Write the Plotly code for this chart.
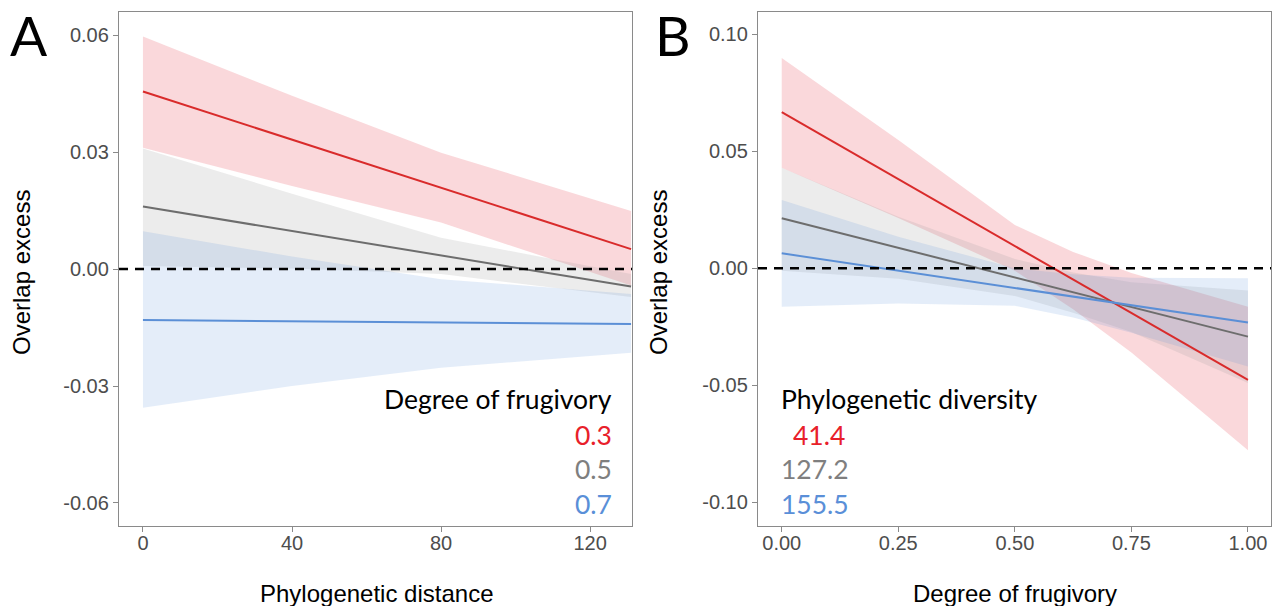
import plotly.graph_objects as go

W, H = 1273, 606

# ---------------- Panel A data (x = phylogenetic distance) ----------------
a_x = [0, 40, 80, 131]
a_red_fit = [0.0455, 0.0332, 0.0208, 0.0051]
a_red_lo = [0.0311, 0.0213, 0.0119, -0.0042]
a_red_hi = [0.0596, 0.0444, 0.0298, 0.0149]
a_gray_fit = [0.0160, 0.0097, 0.0035, -0.0045]
a_gray_lo = [0.0008, 0.0001, -0.0013, -0.0072]
a_gray_hi = [0.0309, 0.0193, 0.0080, -0.0013]
a_blue_fit = [-0.0131, -0.0134, -0.0137, -0.0141]
a_blue_lo = [-0.0356, -0.0300, -0.0253, -0.0215]
a_blue_hi = [0.0097, 0.0032, -0.0026, -0.0064]
a_legend_title = "Degree of frugivory"
a_legend_labels = ["0.3", "0.5", "0.7"]

# ---------------- Panel B data (x = degree of frugivory) ----------------
b_x = [0, 0.25, 0.5, 0.625, 0.75, 1.0]
b_red_fit = [0.0667, 0.0381, 0.0095, -0.0048, -0.0191, -0.0477]
b_red_lo = [0.0430, 0.0215, -0.0010, -0.0175, -0.0360, -0.0777]
b_red_hi = [0.0898, 0.0548, 0.0185, 0.0070, -0.0020, -0.0164]
b_gray_fit = [0.0214, 0.0088, -0.0039, -0.0103, -0.0166, -0.0292]
b_gray_lo = [-0.0010, -0.0045, -0.0118, -0.0190, -0.0272, -0.0490]
b_gray_hi = [0.0430, 0.0220, 0.0040, -0.0018, -0.0060, -0.0095]
b_blue_fit = [0.0064, -0.0010, -0.0084, -0.0121, -0.0158, -0.0232]
b_blue_lo = [-0.0164, -0.0150, -0.0160, -0.0210, -0.0275, -0.0420]
b_blue_hi = [0.0292, 0.0135, 0.0000, -0.0025, -0.0040, -0.0043]
b_legend_title = "Phylogenetic diversity"
b_legend_labels = ["41.4", "127.2", "155.5"]

# ticks
a_xticks = [0, 40, 80, 120]
a_xticklabels = ["0", "40", "80", "120"]
a_yticks = [-0.06, -0.03, 0.0, 0.03, 0.06]
a_yticklabels = ["-0.06", "-0.03", "0.00", "0.03", "0.06"]
b_xticks = [0, 0.25, 0.5, 0.75, 1.0]
b_xticklabels = ["0.00", "0.25", "0.50", "0.75", "1.00"]
b_yticks = [-0.10, -0.05, 0.0, 0.05, 0.10]
b_yticklabels = ["-0.10", "-0.05", "0.00", "0.05", "0.10"]

# styles
line_cols = ["#d92b2b", "#6d6d6d", "#5b8fd6"]
fill_cols = ["rgba(235,100,110,0.25)", "rgba(160,160,160,0.2)", "rgba(90,140,220,0.16)"]
legend_cols = ["#e8202a", "#7f7f7f", "#5a8fd8"]


def px2x(p):
    return p / W


def px2y(p):
    return 1 - p / H


fig = go.Figure()


def add_panel(xs, fits, los, his, xa, ya):
    for lo, hi, fc in zip(los, his, fill_cols):
        fig.add_trace(go.Scatter(
            x=list(xs) + list(xs)[::-1], y=list(hi) + list(lo)[::-1],
            fill="toself", fillcolor=fc, mode="lines", line=dict(width=0),
            hoverinfo="skip", showlegend=False, xaxis=xa, yaxis=ya))
    for f, lc in zip(fits, line_cols):
        fig.add_trace(go.Scatter(
            x=xs, y=f, mode="lines", line=dict(color=lc, width=2),
            showlegend=False, xaxis=xa, yaxis=ya))


add_panel(a_x, [a_red_fit, a_gray_fit, a_blue_fit],
          [a_red_lo, a_gray_lo, a_blue_lo], [a_red_hi, a_gray_hi, a_blue_hi], "x", "y")
add_panel(b_x, [b_red_fit, b_gray_fit, b_blue_fit],
          [b_red_lo, b_gray_lo, b_blue_lo], [b_red_hi, b_gray_hi, b_blue_hi], "x2", "y2")

tickfont = dict(family="Liberation Sans, Arial", size=20, color="#4d4d4d")
axis_common = dict(showline=True, mirror=True, linecolor="#8a8a8a", linewidth=1.3,
                   ticks="outside", ticklen=5, tickcolor="#8a8a8a", tickwidth=1,
                   showgrid=False, zeroline=False, tickfont=tickfont, tickmode="array")

ydom = [px2y(526), px2y(12)]
fig.update_layout(
    width=W, height=H, margin=dict(l=0, r=0, t=0, b=0, pad=0),
    paper_bgcolor="white", plot_bgcolor="white", showlegend=False,
    xaxis=dict(domain=[px2x(119), px2x(632)], range=[-6.43, 131.25], anchor="y",
               tickvals=a_xticks, ticktext=a_xticklabels, ticklabelstandoff=-6, **axis_common),
    yaxis=dict(domain=ydom, range=[-0.0659, 0.0659], anchor="x",
               tickvals=a_yticks, ticktext=a_yticklabels, **axis_common),
    xaxis2=dict(domain=[px2x(758), px2x(1271)], range=[-0.0509, 1.0494], anchor="y2",
                tickvals=b_xticks, ticktext=b_xticklabels, ticklabelstandoff=-6, **axis_common),
    yaxis2=dict(domain=ydom, range=[-0.1101, 0.1095], anchor="x2",
                tickvals=b_yticks, ticktext=b_yticklabels, **axis_common),
)

for xr, yr in [("x domain", "y"), ("x2 domain", "y2")]:
    fig.add_shape(type="line", xref=xr, yref=yr, x0=0, x1=1, y0=0, y1=0,
                  line=dict(color="black", width=2.5, dash="9px,7px"), layer="above")

ann = []
title_font = dict(family="Liberation Sans, Arial", size=24, color="black")
leg_family = "Lato"
LEG = 26.5


def note(x, y, text, font, xanchor="center", yanchor="middle", **kw):
    ann.append(dict(x=px2x(x), y=px2y(y), xref="paper", yref="paper", text=text,
                    font=font, showarrow=False, xanchor=xanchor, yanchor=yanchor, **kw))


# axis titles
for cx in [21, 658]:
    note(cx, 273, "Overlap excess", title_font, textangle=-90)
note(376, 593, "Phylogenetic distance", title_font)
note(1015, 593, "Degree of frugivory", title_font)
# panel letters
note(8, 0, "A", dict(family=leg_family, size=55, color="black"), xanchor="left", yanchor="top")
note(653, 0, "B", dict(family=leg_family, size=55, color="black"), xanchor="left", yanchor="top")
# legend A (right aligned)
note(614, 399, a_legend_title, dict(family=leg_family, size=LEG, color="black"), xanchor="right")
for lab, col, cy in zip(a_legend_labels, legend_cols, [435, 469, 504]):
    note(614, cy, lab, dict(family=leg_family, size=LEG, color=col), xanchor="right")
# legend B (left aligned)
note(779, 399, b_legend_title, dict(family=leg_family, size=LEG, color="black"), xanchor="left")
for lab, col, cy, lx in zip(b_legend_labels, legend_cols, [435, 469, 504], [791, 779, 779]):
    note(lx, cy, lab, dict(family=leg_family, size=LEG, color=col), xanchor="left")
fig.update_layout(annotations=ann)

fig.write_html("out.html", config={"displayModeBar": False},
               post_script="document.body.style.margin='0px';")
